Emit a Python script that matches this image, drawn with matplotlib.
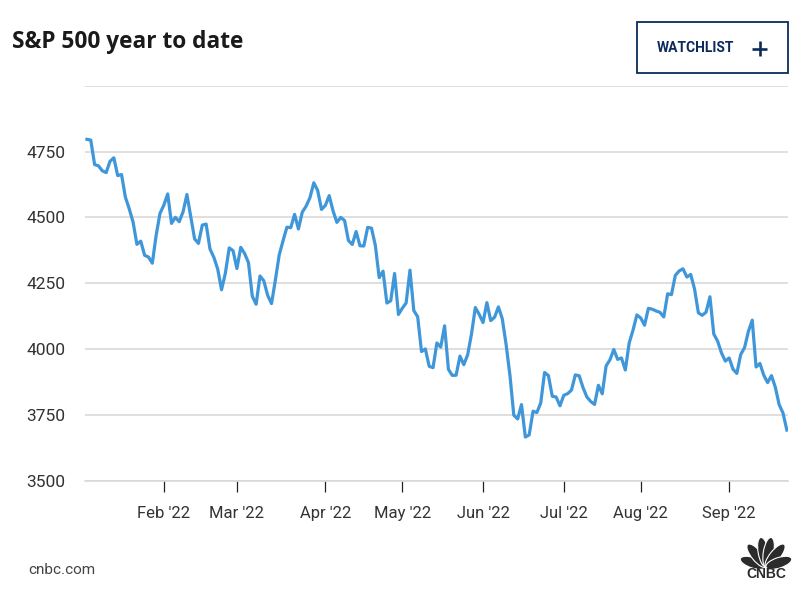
import numpy as np
import pandas as pd
import matplotlib.pyplot as plt
from matplotlib.patches import Rectangle, Ellipse

# S&P 500 daily closes, 2022 year to date
jan = [4796.56, 4793.54, 4700.58, 4696.05, 4677.03, 4670.29, 4713.07, 4726.35, 4659.03, 4662.85,
       4577.11, 4532.76, 4482.73, 4397.94, 4410.13, 4356.45, 4349.93, 4326.51, 4431.85, 4515.55]
feb = [4546.54, 4589.38, 4477.44, 4500.53, 4483.87, 4521.54, 4587.18, 4504.08, 4418.64, 4401.67,
       4471.07, 4475.01, 4380.26, 4348.87, 4304.76, 4225.50, 4288.70, 4384.65, 4373.94]
mar = [4306.26, 4386.54, 4363.49, 4328.87, 4201.09, 4170.70, 4277.88, 4259.52, 4204.31, 4173.11,
       4262.45, 4357.86, 4411.67, 4463.12, 4461.18, 4511.61, 4456.24, 4520.16, 4543.06, 4575.52,
       4631.60, 4602.45, 4530.41]
apr = [4545.86, 4582.64, 4525.12, 4481.15, 4500.21, 4488.28, 4412.53, 4397.45, 4446.59, 4392.59,
       4391.69, 4462.21, 4459.45, 4393.66, 4271.78, 4296.12, 4175.20, 4183.96, 4287.50, 4131.93]
may = [4155.38, 4175.48, 4300.17, 4146.87, 4123.34, 3991.24, 4001.05, 3935.18, 3930.08, 4023.89,
       4008.01, 4088.85, 3923.68, 3900.79, 3901.36, 3973.75, 3941.48, 3978.73, 4057.84, 4158.24,
       4132.15]
jun = [4101.23, 4176.82, 4108.54, 4121.43, 4160.68, 4115.77, 4017.82, 3900.86, 3749.63, 3735.48,
       3789.99, 3666.77, 3674.84, 3764.79, 3759.89, 3795.73, 3911.74, 3900.11, 3821.55, 3818.83,
       3785.38]
jul = [3825.33, 3831.39, 3845.08, 3902.62, 3899.38, 3854.43, 3818.80, 3801.78, 3790.38, 3863.16,
       3830.85, 3936.69, 3959.90, 3998.95, 3961.63, 3966.84, 3921.05, 4023.61, 4072.43, 4130.29]
aug = [4118.63, 4091.19, 4155.17, 4151.94, 4145.19, 4140.06, 4122.47, 4210.24, 4207.27, 4280.15,
       4297.14, 4305.20, 4274.04, 4283.74, 4228.48, 4137.99, 4128.73, 4140.77, 4199.12, 4057.66,
       4030.61, 3986.16, 3955.00]
sep = [3966.85, 3924.26, 3908.19, 3979.87, 4006.18, 4067.36, 4110.41, 3932.69, 3946.01, 3901.35,
       3873.33, 3899.89, 3855.93, 3789.93, 3757.99, 3693.23]

closes = jan + feb + mar + apr + may + jun + jul + aug + sep

holidays = ['2022-01-17', '2022-02-21', '2022-04-15', '2022-05-30', '2022-06-20', '2022-07-04', '2022-09-05']
dates = pd.bdate_range('2022-01-03', '2022-09-23')
dates = dates[~dates.isin(pd.to_datetime(holidays))]

y_ticks = [3500, 3750, 4000, 4250, 4500, 4750, 5000]
y_labels = ['3500', '3750', '4000', '4250', '4500', '4750', '']

# first trading day of each month (Feb..Sep) -> tick positions on the index axis
month = dates.month
tick_pos = [i for i in range(1, len(dates)) if month[i] != month[i - 1]]
tick_labels = [dates[i].strftime("%b '%y") for i in tick_pos]

plt.rcParams['font.family'] = ['Roboto', 'DejaVu Sans']

fig = plt.figure(figsize=(8.06, 5.95), dpi=100)
W, H = 806, 595

ax = fig.add_axes([85 / W, 1 - 481 / H, (788 - 85) / W, (481 - 85.7) / H])
ax.plot(np.arange(len(closes)), closes, color='#3f97da', lw=2.3, solid_joinstyle='round', zorder=3)

ax.set_xlim(-0.5, len(closes) - 0.7)
ax.set_ylim(3500, 5000)
ax.set_yticks(y_ticks)
ax.set_yticklabels(y_labels)
ax.set_xticks(tick_pos)
ax.set_xticklabels(tick_labels)
ax.grid(axis='y', color='#d6d6d6', lw=1.1)
ax.set_axisbelow(True)
for s in ['top', 'right', 'left']:
    ax.spines[s].set_visible(False)
ax.spines['bottom'].set_color('#d6d6d6')
ax.spines['bottom'].set_linewidth(1.1)
ax.tick_params(axis='y', length=0, pad=14, labelsize=12.5, labelcolor='#333333')
ax.tick_params(axis='x', length=8, width=0.9, color='#222222', pad=10, labelsize=12, labelcolor='#333333')

# overlay in pixel coordinates for header/footer decorations
ov = fig.add_axes([0, 0, 1, 1])
ov.set_xlim(0, W)
ov.set_ylim(H, 0)
ov.axis('off')
ov.patch.set_visible(False)

ov.text(12, 48.5, 'S&P 500 year to date', fontsize=16.3, fontweight='bold', color='#1a1a1a',
        va='baseline', family=['Open Sans', 'DejaVu Sans'])

navy = '#0c2b5c'
ov.add_patch(Rectangle((637, 22), 151, 51, fill=False, edgecolor=navy, lw=1.3))
ov.text(657, 47.5, 'WATCHLIST', fontsize=10, fontweight='bold', color=navy, va='center', ha='left')
ov.plot([752, 767], [48.5, 48.5], color=navy, lw=1.9, solid_capstyle='butt')
ov.plot([759.5, 759.5], [41, 56], color=navy, lw=1.9, solid_capstyle='butt')

ov.text(28, 570, 'cnbc.com', fontsize=11, color='#444444', va='center', ha='left')

# peacock logo
cx, cy = 766, 567
for ang, ln in [(162, 27), (129, 29), (100, 30), (80, 30), (51, 29), (18, 27)]:
    r = np.deg2rad(ang)
    ov.add_patch(Ellipse((cx + np.cos(r) * ln / 2, cy - np.sin(r) * ln / 2), ln, 10.5,
                         angle=-ang, facecolor='#2b2b2b', edgecolor='white', lw=0.8))
ov.text(766.5, 574, 'CNBC', fontsize=10, fontweight='heavy', color='#2b2b2b', ha='center', va='center',
        family=['Liberation Sans', 'DejaVu Sans'])

fig.savefig('out.png', dpi=100)
